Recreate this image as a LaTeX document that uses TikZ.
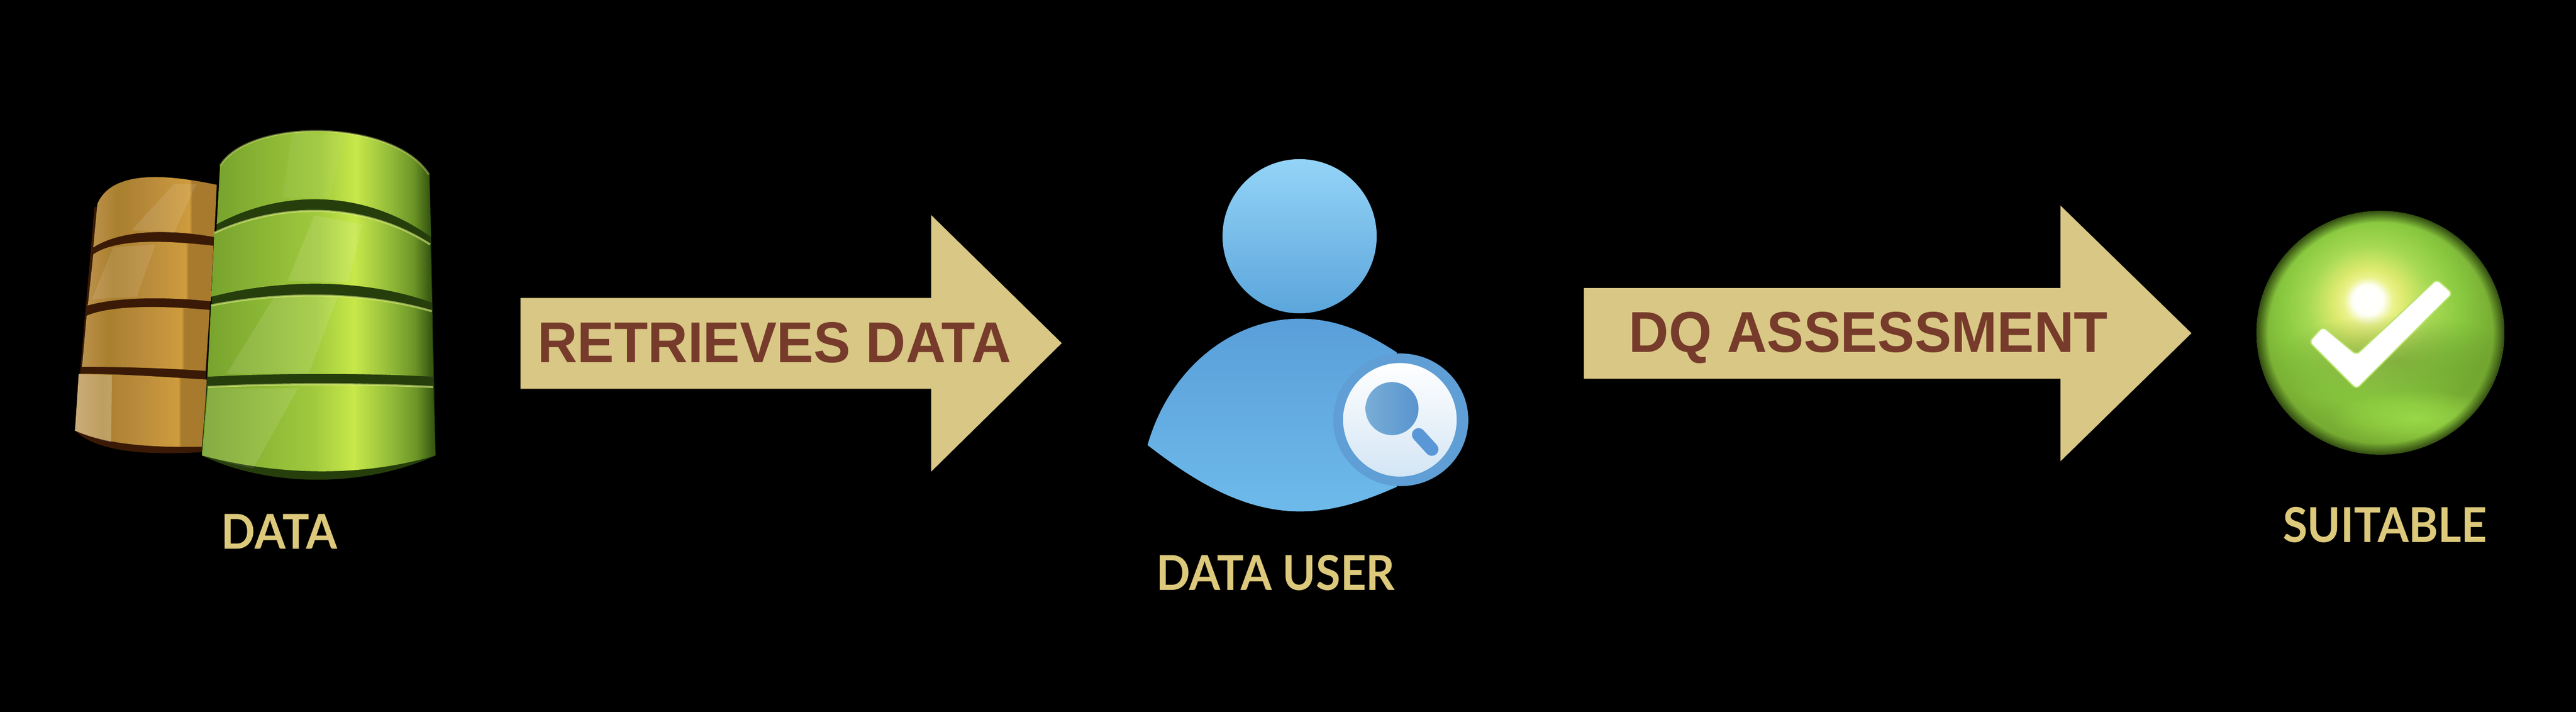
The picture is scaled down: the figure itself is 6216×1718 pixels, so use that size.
\documentclass[tikz,border=0pt]{standalone}
\usepackage{fontspec}
\setmainfont{Liberation Sans}
\newfontfamily\labelfont{Lato}
\usepackage{tikz}
\usetikzlibrary{fadings}
\definecolor{paper}{HTML}{D9C785}
\definecolor{rust}{HTML}{763B2B}
\definecolor{sand}{HTML}{DDC97B}
\definecolor{ring}{HTML}{5F9FD5}
\definecolor{grassdark}{HTML}{263E0C}
\definecolor{barkdark}{HTML}{3A1A06}
\definecolor{grasslight}{HTML}{DDF080}
\pgfdeclarehorizontalshading{greenbar}{100bp}{rgb(0bp)=(.47,.64,.18); rgb(25bp)=(.47,.64,.18); rgb(37.5bp)=(.55,.72,.21); rgb(49bp)=(.63,.79,.24); rgb(57.5bp)=(.78,.91,.29); rgb(66bp)=(.56,.72,.22); rgb(71bp)=(.42,.58,.15); rgb(74.5bp)=(.22,.35,.07); rgb(100bp)=(.22,.35,.07)}
\pgfdeclarehorizontalshading{brownbar}{100bp}{rgb(0bp)=(.72,.57,.29); rgb(25bp)=(.72,.57,.29); rgb(29bp)=(.71,.54,.25); rgb(35bp)=(.66,.50,.18); rgb(47.5bp)=(.72,.54,.23); rgb(64bp)=(.81,.61,.24); rgb(65bp)=(.66,.48,.18); rgb(100bp)=(.65,.48,.18)}
\pgfdeclareradialshading{ballbase}{\pgfpoint{-2.7bp}{7.15bp}}{rgb(0bp)=(1,1,1); rgb(3bp)=(1,1,.98); rgb(5bp)=(.92,.95,.55); rgb(7bp)=(.87,.92,.44); rgb(12.5bp)=(.65,.85,.33); rgb(18bp)=(.54,.79,.25); rgb(24bp)=(.47,.68,.20); rgb(33bp)=(.45,.65,.19); rgb(50bp)=(.45,.65,.19)}
\pgfdeclareradialshading{rimshade}{\pgfpointorigin}{color(0bp)=(black); color(22.5bp)=(black); color(25bp)=(white); color(50bp)=(white)}
\pgfdeclareradialshading{softshade}{\pgfpointorigin}{color(0bp)=(white); color(12bp)=(white!60!black); color(25bp)=(black); color(50bp)=(black)}
\pgfdeclarefading{rimfade}{\pgfuseshading{rimshade}}
\pgfdeclarefading{softfade}{\pgfuseshading{softshade}}
\newcommand{\itemname}[1]{\scalebox{0.93}[1]{#1}}
\newcommand{\arrowname}[1]{\scalebox{0.96}[1]{#1}}
\tikzset{
    greenseg/.style = {shading = greenbar},
    brownseg/.style = {shading = brownbar},
    glare/.style = {fill = white, opacity = 0.1},
    greenrim/.style = {line width = 0.05cm, grasslight, opacity = 0.6},
    bigarrow/.style = {fill = paper},
    arrowtext/.style = {text = rust, inner sep = 0pt, anchor = base west, font = \fontsize{39.5}{41}\selectfont\bfseries},
    itemtext/.style = {text = sand, inner sep = 0pt, anchor = base, font = \fontsize{33}{35}\selectfont\labelfont\bfseries}
}
\begin{document}
\begin{tikzpicture}[x=0.01cm,y=-0.01cm]
    \useasboundingbox (0,0) rectangle (6216,1718);
    \fill [black] (0,0) rectangle (6216,1718);
    % brown stack
    \path [fill = barkdark] (228,500) -- (181,1039) .. controls (240,1097) and (380,1097) .. (487,1091) -- (523,450) -- cycle;
    \path [brownseg] (235,492) .. controls (270,410) and (400,420) .. (523,446) -- (517,572) .. controls (420,555) and (300,550) .. (225,597) -- cycle;
    \path [brownseg] (225,614) .. controls (280,575) and (400,580) .. (515,593) -- (509,727) .. controls (410,717) and (290,715) .. (212,737) -- cycle;
    \path [brownseg] (209,762) .. controls (270,735) and (400,738) .. (506,748) -- (496,895) .. controls (400,888) and (280,885) .. (198,885) -- cycle;
    \path [brownseg] (190,902) .. controls (290,902) and (400,910) .. (501,916) -- (487,1078) .. controls (380,1080) and (260,1075) .. (181,1039) -- cycle;
    \path [glare] (420,444) -- (474,444) -- (420,562) -- (318,555) -- cycle;
    \path [glare] (273,597) -- (375,590) -- (330,716) -- (222,722) -- cycle;
    \path [fill = white, opacity = 0.25] (190,903) -- (270,905) -- (268,1067) .. controls (240,1060) and (210,1052) .. (181,1039) -- cycle;
    % green stack
    \path [fill = grassdark] (531,420) -- (487,1099) .. controls (650,1177) and (880,1177) .. (1051,1099) -- (1037,420) -- cycle;
    \path [greenseg] (531,400) .. controls (600,285) and (950,285) .. (1035,421) -- (1040,572) .. controls (880,456) and (680,456) .. (523,541) -- cycle;
    \path [greenseg] (517,562) .. controls (680,487) and (880,487) .. (1038,590) -- (1042,730) .. controls (880,672) and (680,672) .. (510,716) -- cycle;
    \path [greenseg] (509,737) .. controls (680,703) and (880,703) .. (1042,751) -- (1045,909) .. controls (880,900) and (680,900) .. (501,909) -- cycle;
    \path [greenseg] (501,934) .. controls (680,925) and (880,925) .. (1045,934) -- (1051,1099) .. controls (880,1150) and (680,1150) .. (487,1099) -- cycle;
    \path [glare, opacity = 0.05] (707,316) -- (828,330) -- (796,477) -- (681,477) -- cycle;
    \path [glare] (758,520) -- (873,541) -- (841,681) -- (694,678) -- cycle;
    \path [glare] (662,716) -- (815,716) -- (745,902) -- (547,902) -- cycle;
    \path [glare] (503,937) -- (719,937) -- (611,1130) .. controls (570,1122) and (530,1112) .. (489,1099) -- cycle;
    % light edges on the green bars
    \draw [greenrim, opacity = 0.4] (531,400) .. controls (600,285) and (950,285) .. (1035,421);
    \draw [greenrim] (517,562) .. controls (680,487) and (880,487) .. (1038,590);
    \draw [greenrim] (509,737) .. controls (680,703) and (880,703) .. (1042,751);
    \draw [greenrim] (501,934) .. controls (680,925) and (880,925) .. (1045,934);
    \node (dataname) at (674,1325) [itemtext] {\itemname{DATA}};
    % first arrow
    \path [bigarrow] (1256,719) -- (2247,719) -- (2247,519) -- (2562,828) -- (2247,1138) -- (2247,938) -- (1256,938) -- cycle;
    \node (retrieve) at (1296,875) [arrowtext] {\arrowname{RETRIEVES DATA}};
    % person
    \path [top color = {rgb,1:red,.58;green,.83;blue,.97}, bottom color = {rgb,1:red,.36;green,.65;blue,.86}] (3136,570) circle [radius = 186];
    \path [top color = {rgb,1:red,.35;green,.62;blue,.85}, bottom color = {rgb,1:red,.43;green,.73;blue,.92}] (2769,1074) .. controls (2825,880) and (2980,769) .. (3136,769) .. controls (3230,769) and (3300,805) .. (3370,850) -- (3370,1175) .. controls (3290,1210) and (3220,1234) .. (3136,1234) .. controls (3000,1234) and (2880,1160) .. (2769,1074) -- cycle;
    \path [fill = ring] (3380,1013) circle [x radius = 163, y radius = 160];
    \path [top color = white, bottom color = {rgb,1:red,.83;green,.90;blue,.96}] (3378,1013) circle [radius = 137];
    \draw [line width = 0.32cm, line cap = round, ring!95!blue] (3423,1049) -- (3455,1084);
    \path [left color = {rgb,1:red,.47;green,.68;blue,.84}, right color = {rgb,1:red,.35;green,.58;blue,.81}] (3359,986) circle [radius = 64];
    \node (username) at (3078,1424) [itemtext] {\itemname{DATA USER}};
    % second arrow
    \path [bigarrow] (3822,695) -- (4972,695) -- (4972,496) -- (5288,804) -- (4972,1113) -- (4972,914) -- (3822,914) -- cycle;
    \node (assess) at (3930,850) [arrowtext] {\arrowname{DQ ASSESSMENT}};
    % green ball
    \path [shading = ballbase] (5744,803) circle [x radius = 299, y radius = 294];
    \begin{scope}
        \clip (5744,803) circle [x radius = 299, y radius = 294];
        \path [fill = {rgb,1:red,.33;green,.50;blue,.13}, path fading = softfade, opacity = 0.45] (5780,870) circle [x radius = 300, y radius = 110];
        \path [fill = {rgb,1:red,.60;green,.85;blue,.28}, path fading = softfade] (5830,1010) circle [x radius = 210, y radius = 70];
        \path [fill = {rgb,1:red,.18;green,.28;blue,.06}, path fading = rimfade] (5744,803) circle [x radius = 300, y radius = 295];
    \end{scope}
    \path [fill = white, draw = {rgb,1:red,.72;green,.89;blue,.42}, line width = 0.03cm, rounded corners = 0.1cm] (5572,825) -- (5605,788) -- (5686,856) -- (5880,674) -- (5918,708) -- (5686,939) -- cycle;
    \node (suitname) at (5755,1308) [itemtext] {\itemname{SUITABLE}};
\end{tikzpicture}
\end{document}
